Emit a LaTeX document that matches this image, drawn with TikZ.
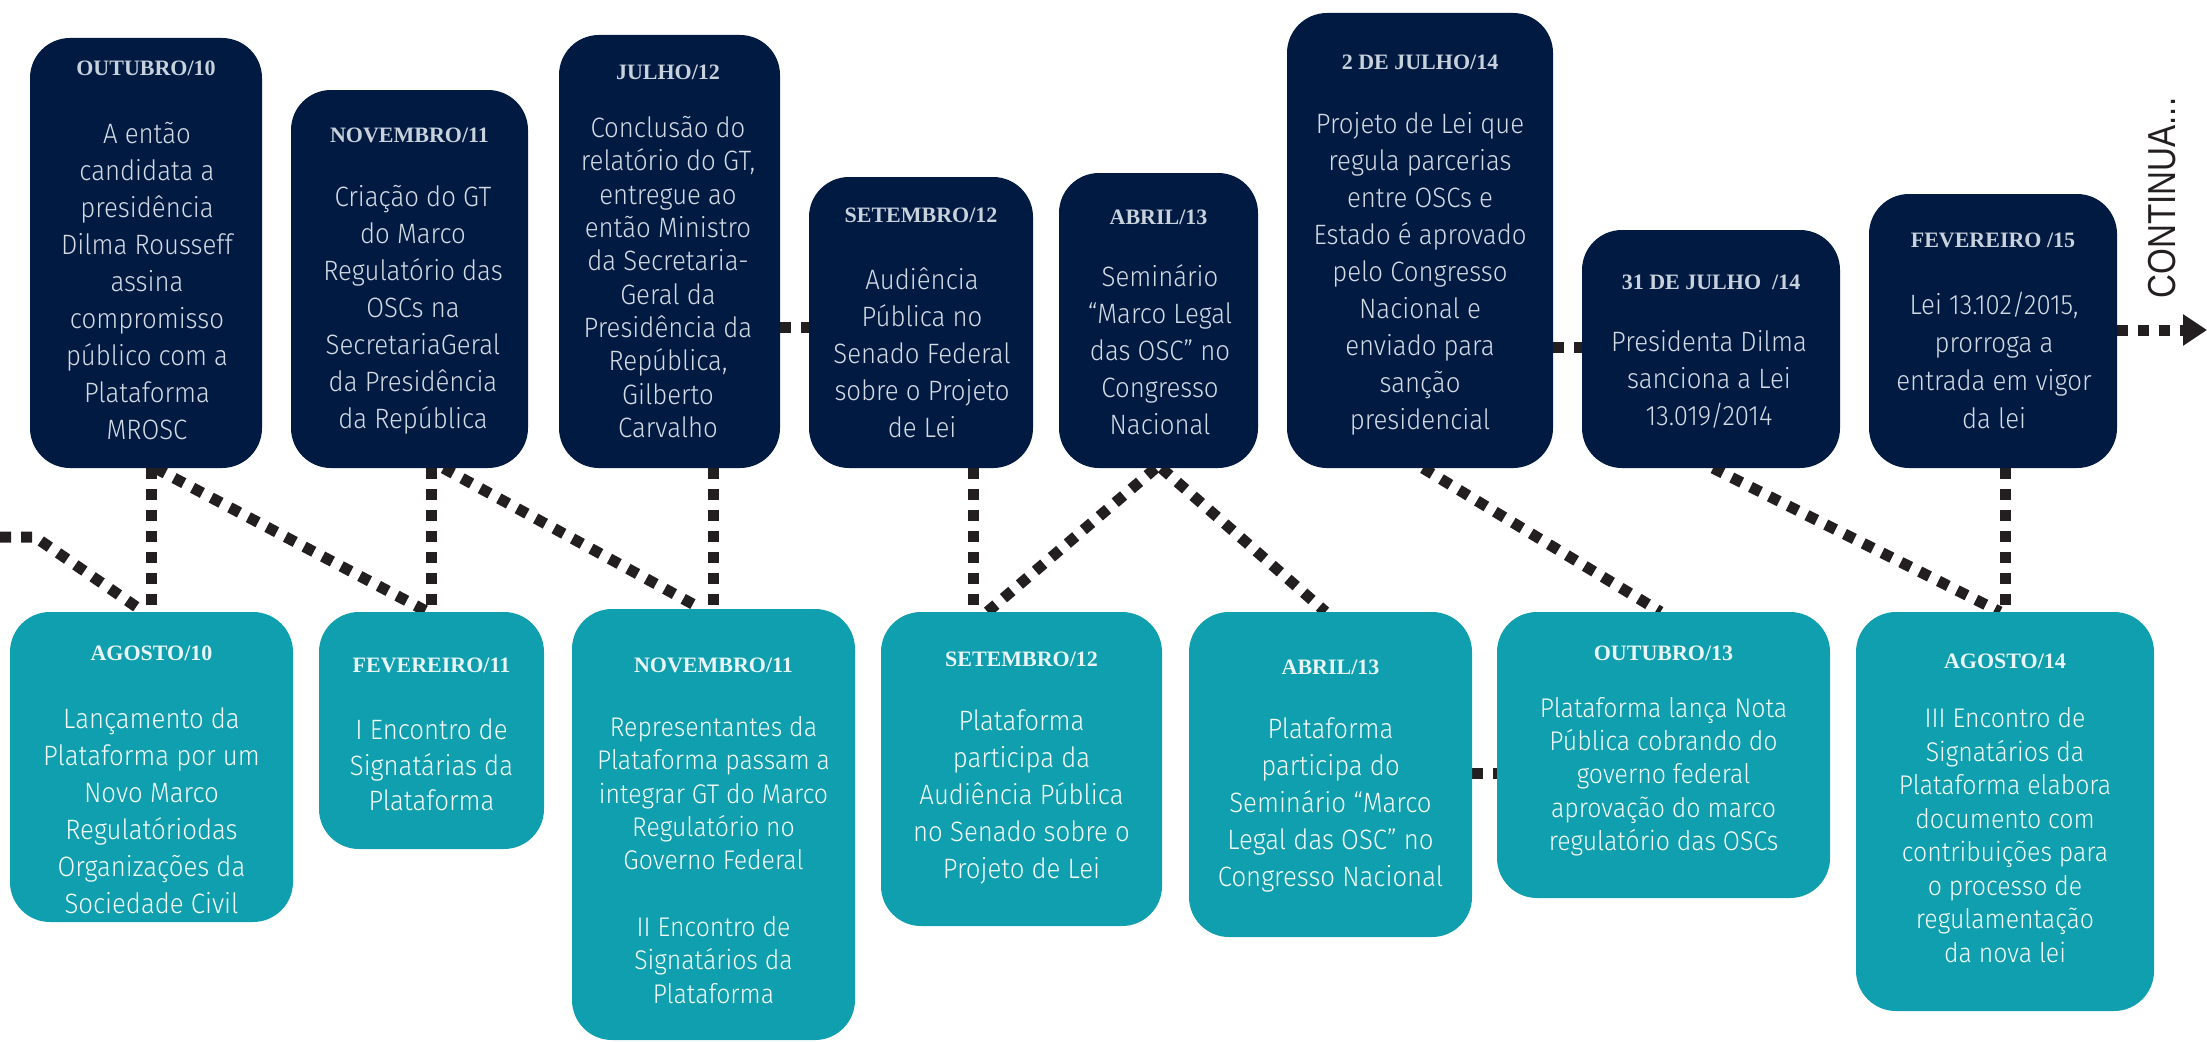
\documentclass[tikz,border=0pt]{standalone}
\usepackage{fontspec}
\setmainfont{Fira Sans}
\newfontfamily\bodyfont{Fira Sans Light}[FakeStretch=0.92]
\newfontfamily\headfont{Liberation Serif}
\newfontfamily\contfont{Liberation Sans}[FakeStretch=0.85]
\usetikzlibrary{arrows.meta,backgrounds}
\definecolor{navybox}{HTML}{011A42}
\definecolor{tealbox}{HTML}{0F9FAE}
\definecolor{tophead}{HTML}{C8D2DD}
\definecolor{topbody}{HTML}{D3DBE4}
\definecolor{bothead}{HTML}{E9F6F7}
\definecolor{botbody}{HTML}{F4FBFB}
\definecolor{dotc}{HTML}{231F20}
\tikzset{
  topbox/.style={fill=navybox, draw=none, rounded corners=40pt, inner sep=0pt},
  botbox/.style={fill=tealbox, draw=none, rounded corners=40pt, inner sep=0pt},
  tophd/.style={font=\headfont\bfseries\fontsize{22}{26}\selectfont, text=tophead, inner sep=0pt},
  bothd/.style={font=\headfont\bfseries\fontsize{22}{26}\selectfont, text=bothead, inner sep=0pt},
  topbd/.style={font=\bodyfont\fontsize{28}{37}\selectfont, text=topbody, align=center, inner sep=0pt},
  botbd/.style={font=\bodyfont\fontsize{28}{37}\selectfont, text=botbody, align=center, inner sep=0pt},
  dots/.style={draw=dotc, line width=11pt, dash pattern=on 11pt off 10pt}
}
\begin{document}
\begin{tikzpicture}[x=1pt,y=-1pt]
\useasboundingbox (0,0) rectangle (2207,1041);
% ---------- top boxes ----------
\node[topbox, minimum width=232pt, minimum height=430pt] (t1) at (146,253) {};
\node[topbox, minimum width=237pt, minimum height=378pt] (t2) at (409.5,279) {};
\node[topbox, minimum width=221pt, minimum height=433pt] (t3) at (669.5,251.5) {};
\node[topbox, minimum width=224pt, minimum height=291pt] (t4) at (921,322.5) {};
\node[topbox, minimum width=199pt, minimum height=295pt] (t5) at (1158.5,320.5) {};
\node[topbox, minimum width=266pt, minimum height=455pt] (t6) at (1420,240.5) {};
\node[topbox, minimum width=258pt, minimum height=238pt] (t7) at (1711,349) {};
\node[topbox, minimum width=248pt, minimum height=274pt] (t8) at (1993,331) {};
% ---------- bottom boxes ----------
\node[botbox, minimum width=283pt, minimum height=310pt] (b1) at (151.5,767) {};
\node[botbox, minimum width=225pt, minimum height=237pt] (b2) at (431.5,730.5) {};
\node[botbox, minimum width=283pt, minimum height=431pt] (b3) at (713.5,824.5) {};
\node[botbox, minimum width=281pt, minimum height=314pt] (b4) at (1021.5,769) {};
\node[botbox, minimum width=283pt, minimum height=325pt] (b5) at (1330.5,774.5) {};
\node[botbox, minimum width=333pt, minimum height=286pt] (b6) at (1663.5,755) {};
\node[botbox, minimum width=298pt, minimum height=399pt] (b7) at (2005,811.5) {};
% ---------- top texts ----------
\node[tophd] (th1) at (146,68) {OUTUBRO/10};
\node[topbd] (tb1) at (147,281) {A então\\candidata a\\presidência\\Dilma Rousseff\\assina\\compromisso\\público com a\\Plataforma\\MROSC};
\node[tophd] (th2) at (409.5,135) {NOVEMBRO/11};
\node[topbd] (tb2) at (413,310) {Criação do GT\\do Marco\\Regulatório das\\OSCs na\\SecretariaGeral\\da Presidência\\da República};
\node[tophd] (th3) at (668,72) {JULHO/12};
\node[topbd, font=\bodyfont\fontsize{28}{33.3}\selectfont] (tb3) at (668,277) {Conclusão do\\relatório do GT,\\entregue ao\\então Ministro\\da Secretaria-\\Geral da\\Presidência da\\República,\\Gilberto\\Carvalho};
\node[tophd] (th4) at (921,215) {SETEMBRO/12};
\node[topbd] (tb4) at (922,352.5) {Audiência\\Pública no\\Senado Federal\\sobre o Projeto\\de Lei};
\node[tophd] (th5) at (1158.5,217) {ABRIL/13};
\node[topbd] (tb5) at (1160,350) {Seminário\\“Marco Legal\\das OSC” no\\Congresso\\Nacional};
\node[tophd] (th6) at (1420,62) {2 DE JULHO/14};
\node[topbd] (tb6) at (1420,274) {Projeto de Lei que\\regula parcerias\\entre OSCs e\\Estado é aprovado\\pelo Congresso\\Nacional e\\enviado para\\sanção\\presidencial};
\node[tophd] (th7) at (1711,282) {31 DE JULHO~~/14};
\node[topbd] (tb7) at (1709,379.5) {Presidenta Dilma\\sanciona a Lei\\13.019/2014};
\node[tophd] (th8) at (1993,240) {FEVEREIRO /15};
\node[topbd, font=\bodyfont\fontsize{28}{38}\selectfont] (tb8) at (1994,360) {Lei 13.102/2015,\\prorroga a\\entrada em vigor\\da lei};
% ---------- bottom texts ----------
\node[bothd] (bh1) at (151.5,653) {AGOSTO/10};
\node[botbd] (bb1) at (151.5,811) {Lançamento da\\Plataforma por um\\Novo Marco\\Regulatóriodas\\Organizações da\\Sociedade Civil};
\node[bothd] (bh2) at (431.5,665) {FEVEREIRO/11};
\node[botbd, font=\bodyfont\fontsize{28}{35.5}\selectfont] (bb2) at (431.5,765) {I Encontro de\\Signatárias da\\Plataforma};
\node[bothd] (bh3) at (713.5,665) {NOVEMBRO/11};
\node[botbd, font=\bodyfont\fontsize{27}{33.3}\selectfont] (bb3) at (713.5,860) {Representantes da\\Plataforma passam a\\integrar GT do Marco\\Regulatório no\\Governo Federal\\[33.3pt]II Encontro de\\Signatários da\\Plataforma};
\node[bothd] (bh4) at (1021.5,659) {SETEMBRO/12};
\node[botbd] (bb4) at (1021.5,796.5) {Plataforma\\participa da\\Audiência Pública\\no Senado sobre o\\Projeto de Lei};
\node[bothd] (bh5) at (1330.5,667) {ABRIL/13};
\node[botbd] (bb5) at (1330.5,805) {Plataforma\\participa do\\Seminário “Marco\\Legal das OSC” no\\Congresso Nacional};
\node[bothd] (bh6) at (1663.5,653) {OUTUBRO/13};
\node[botbd, font=\bodyfont\fontsize{27}{33.3}\selectfont] (bb6) at (1663.5,776.5) {Plataforma lança Nota\\Pública cobrando do\\governo federal\\aprovação do marco\\regulatório das OSCs};
\node[bothd] (bh7) at (2005,661) {AGOSTO/14};
\node[botbd, font=\bodyfont\fontsize{27}{33.5}\selectfont] (bb7) at (2005,835) {III Encontro de\\Signatários da\\Plataforma elabora\\documento com\\contribuições para\\o processo de\\regulamentação\\da nova lei};
% ---------- side label ----------
\node[rotate=90, font=\contfont\fontsize{39}{39}\selectfont, text=dotc, inner sep=0pt] (cont) at (2162,198) {CONTINUA...};
% ---------- connectors ----------
\coordinate (lstart) at (0,537);
\coordinate (lbend) at (35,537);
\coordinate (ylineA) at (0,327);
\coordinate (ylineB) at (0,347);
\coordinate (ylineC) at (0,773);
\coordinate (arrowend) at (2207,330);
\begin{scope}[on background layer]
\draw[dots] (lstart) -- (lbend) -- ([xshift=-8pt]b1.north);
\draw[dots] (b1.north |- t1.south) -- (b1.north);
\draw[dots] ([xshift=4pt]b1.north |- t1.south) -- ([xshift=-4pt]b2.north);
\draw[dots] (b2.north |- t2.south) -- (b2.north);
\draw[dots] ([xshift=12pt]b2.north |- t2.south) -- ([xshift=-12pt]b3.north);
\draw[dots] (b3.north |- t3.south) -- (b3.north);
\draw[dots] (t3.east |- ylineA) -- (t4.west |- ylineA);
\draw[dots] ([xshift=-48.5pt]b4.north |- t4.south) -- ([xshift=-48.5pt]b4.north);
\draw[dots] ([xshift=-3pt]t5.south) -- ([xshift=-34pt]b4.north);
\draw[dots] ([xshift=3pt]t5.south) -- ([xshift=-5pt]b5.north);
\draw[dots] (t6.east |- ylineB) -- (t7.west |- ylineB);
\draw[dots] ([xshift=3pt]t6.south) -- ([xshift=-3pt]b6.north);
\draw[dots] ([xshift=2pt]t7.south) -- ([xshift=-5pt]b7.north);
\draw[dots] (b7.north |- t8.south) -- (b7.north);
\draw[dots, -{Triangle[length=24pt,width=30pt]}] (t8.east |- arrowend) -- (arrowend);
\draw[dots] (b5.east |- ylineC) -- (b6.west |- ylineC);
\end{scope}
\end{tikzpicture}
\end{document}
